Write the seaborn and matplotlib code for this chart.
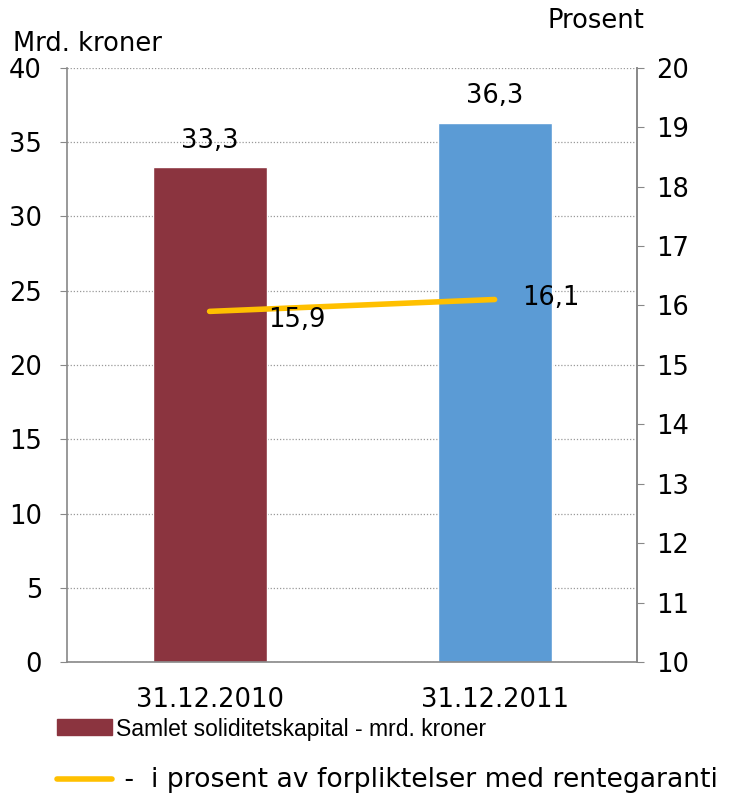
import matplotlib
matplotlib.use("Agg")
import matplotlib.pyplot as plt
import seaborn as sns
import numpy as np
from matplotlib.patches import Patch
from matplotlib.lines import Line2D

# ----------------- Data -----------------
dates = ["31.12.2010", "31.12.2011"]
kapital = [33.3, 36.3]          # mrd. kroner (left axis)
prosent = [15.9, 16.1]          # prosent (right axis)
legend_labels = ["Samlet soliditetskapital - mrd. kroner",
                 " -  i prosent av forpliktelser med rentegaranti"]
bar_colors = ["#8B343F", "#5B9BD5"]
line_color = "#FFC000"

sns.set_style("white")
plt.rcParams['font.family'] = ['DejaVu Sans']
plt.rcParams['text.color'] = 'black'
plt.rcParams['xtick.color'] = 'black'
plt.rcParams['ytick.color'] = 'black'
FS = 18.5

fig = plt.figure(figsize=(7.29, 7.95), dpi=100)
ax = fig.add_axes([0.092, 0.167, 0.782, 0.748])

sns.barplot(x=dates, y=kapital, hue=dates, palette=bar_colors, legend=False,
            width=0.4, saturation=1, ax=ax)
ax.set_xlim(-0.5, 1.5)
ax.set_ylim(0, 40)
ax.set_yticks(np.arange(0, 41, 5))
ax.yaxis.grid(True, linestyle=(0, (1, 1.5)), color="#999999", linewidth=0.9)
ax.set_axisbelow(True)

# x ticks at category boundaries, labels at centers
ax.set_xticks([-0.5, 0.5, 1.5], minor=False)
ax.set_xticklabels([])
ax.set_xticks([0, 1], minor=True)
ax.set_xticklabels(dates, minor=True, fontsize=FS)
ax.tick_params(axis="x", which="minor", length=0, pad=18)
ax.tick_params(axis="x", which="major", length=6, color="#888888", direction="out")
ax.tick_params(axis="y", labelsize=FS, length=5, color="#888888", pad=13)
ax.spines["top"].set_visible(False)
for s in ["left", "bottom", "right"]:
    ax.spines[s].set_color("#888888")
    ax.spines[s].set_linewidth(1.2)

for i, v in enumerate(kapital):
    ax.annotate(f"{v:.1f}".replace(".", ","), (i, v), xytext=(0, 19),
                textcoords="offset points", ha="center", va="center", fontsize=FS)

ax2 = ax.twinx()
sns.lineplot(x=np.arange(len(dates)), y=prosent, color=line_color, linewidth=4,
             solid_capstyle="round", ax=ax2)
ax2.set_ylim(10, 20)
ax2.set_yticks(np.arange(10, 21, 1))
ax2.tick_params(axis="y", labelsize=FS, length=5, color="#888888", pad=9)
for s in ["top", "left", "bottom"]:
    ax2.spines[s].set_visible(False)
ax2.spines["right"].set_color("#888888")
ax2.spines["right"].set_linewidth(1.2)

ax2.annotate(f"{prosent[0]:.1f}".replace(".", ","), (0, prosent[0]), xytext=(42, -6),
             textcoords="offset points", ha="left", va="center", fontsize=FS)
ax2.annotate(f"{prosent[1]:.1f}".replace(".", ","), (1, prosent[1]), xytext=(20, 1),
             textcoords="offset points", ha="left", va="center", fontsize=FS)

fig.text(0.018, 0.945, "Mrd. kroner", fontsize=FS, ha="left", va="center")
fig.text(0.884, 0.974, "Prosent", fontsize=FS, ha="right", va="center")

handles = [Patch(color=bar_colors[0]),
           Line2D([0], [0], color=line_color, linewidth=4, solid_capstyle="round")]
leg = fig.legend(handles, legend_labels, loc="upper left", bbox_to_anchor=(0.078, 0.097),
                 frameon=False, fontsize=FS, handlelength=2.15, handleheight=0.6,
                 handletextpad=0.15, labelspacing=1.03, borderaxespad=0, borderpad=0)
leg.get_texts()[0].set_fontfamily(['Liberation Sans'])
leg.get_texts()[0].set_fontsize(16.5)
leg.get_texts()[1].set_fontsize(19.2)

fig.savefig("out.png", dpi=100)
